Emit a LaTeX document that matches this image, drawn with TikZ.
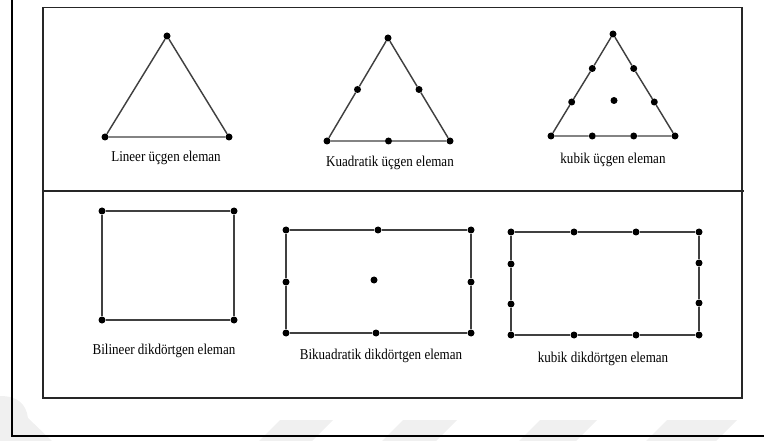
\documentclass[tikz,border=0pt]{standalone}
\usepackage{fontspec}
\setmainfont{Liberation Serif}
\begin{document}
\begin{tikzpicture}[x=1pt,y=-1pt,
  edge/.style={draw=black!75,line width=1.45pt},
  nd/.style={circle,fill=black,inner sep=0pt,minimum size=7pt},
  lbl/.style={font=\fontsize{15}{17}\selectfont,xscale=0.87,inner sep=0pt},
  frame/.style={draw=black!85,line width=1.4pt},
  shade/.style={fill=black!6,draw=none}]
\useasboundingbox (0,0) rectangle (764,441);
% faint background band shapes
\fill[shade] (0,396) .. controls (18,396) and (26,404) .. (28,418) -- (52,441) -- (0,441) -- cycle;
\fill[shade] (280,420) -- (333,420) -- (312,441) -- (259,441) -- cycle;
\fill[shade] (403,420) -- (457,420) -- (436,441) -- (382,441) -- cycle;
\fill[shade] (540,420) -- (597,420) -- (576,441) -- (519,441) -- cycle;
\fill[shade] (667,420) -- (737,420) -- (716,441) -- (646,441) -- cycle;
% outer frame
\draw[line width=2.6pt] (12,0) -- (12,436) -- (764,436);
% inner frame and divider
\draw[frame] (43,7.5) rectangle (742,398);
\draw[frame] (43,191) -- (744,191);

% linear triangle
\node[nd] (t1a) at (167,36) {};
\node[nd] (t1b) at (105,137) {};
\node[nd] (t1c) at (229,137) {};
\draw[edge] (t1a) -- (t1b) -- (t1c) -- (t1a);
\node[lbl] (l1) at (166,158) {Lineer üçgen eleman};

% quadratic triangle
\node[nd] (t2a) at (388,38) {};
\node[nd] (t2b) at (327,141) {};
\node[nd] (t2c) at (450,141) {};
\node[nd] (t2ab) at (357.5,89.5) {};
\node[nd] (t2ac) at (419,89.5) {};
\node[nd] (t2bc) at (388.5,141) {};
\draw[edge] (t2a) -- (t2ab) -- (t2b) -- (t2bc) -- (t2c) -- (t2ac) -- (t2a);
\node[lbl] (l2) at (390,163) {Kuadratik üçgen eleman};

% cubic triangle
\node[nd] (t3a) at (613,34) {};
\node[nd] (t3b) at (551,136) {};
\node[nd] (t3c) at (675,136) {};
\node[nd] (t3l1) at (592.3,68.5) {};
\node[nd] (t3l2) at (571.7,102) {};
\node[nd] (t3r1) at (633.7,68.5) {};
\node[nd] (t3r2) at (654.3,102) {};
\node[nd] (t3m1) at (592.3,136) {};
\node[nd] (t3m2) at (633.7,136) {};
\node[nd] (t3o) at (614,100.5) {};
\draw[edge] (t3a) -- (t3l1) -- (t3l2) -- (t3b) -- (t3m1) -- (t3m2) -- (t3c)
  -- (t3r2) -- (t3r1) -- (t3a);
\node[lbl] (l3) at (613,160) {kubik üçgen eleman};

% bilinear rectangle
\node[nd] (r1a) at (102,211) {};
\node[nd] (r1b) at (234,211) {};
\node[nd] (r1c) at (234,320) {};
\node[nd] (r1d) at (102,320) {};
\draw[edge] (r1a) -- (r1b) -- (r1c) -- (r1d) -- (r1a);
\node[lbl] (l4) at (164,351) {Bilineer dikdörtgen eleman};

% biquadratic rectangle
\node[nd] (r2a) at (286,230) {};
\node[nd] (r2ab) at (378,230) {};
\node[nd] (r2b) at (471,230) {};
\node[nd] (r2bc) at (471,282) {};
\node[nd] (r2c) at (471,333) {};
\node[nd] (r2cd) at (376,333) {};
\node[nd] (r2d) at (286,333) {};
\node[nd] (r2da) at (286,282) {};
\node[nd] (r2o) at (374,280) {};
\draw[edge] (r2a) -- (r2ab) -- (r2b) -- (r2bc) -- (r2c) -- (r2cd) -- (r2d)
  -- (r2da) -- (r2a);
\node[lbl] (l5) at (381,356) {Bikuadratik dikdörtgen eleman};

% cubic rectangle
\node[nd] (r3a) at (511,232) {};
\node[nd] (r3t1) at (574,232) {};
\node[nd] (r3t2) at (636,232) {};
\node[nd] (r3b) at (699,232) {};
\node[nd] (r3r1) at (699,263) {};
\node[nd] (r3r2) at (699,303) {};
\node[nd] (r3c) at (699,335) {};
\node[nd] (r3u2) at (636,335) {};
\node[nd] (r3u1) at (574,335) {};
\node[nd] (r3d) at (511,335) {};
\node[nd] (r3l2) at (511,304) {};
\node[nd] (r3l1) at (511,264) {};
\draw[edge] (r3a) -- (r3t1) -- (r3t2) -- (r3b) -- (r3r1) -- (r3r2) -- (r3c)
  -- (r3u2) -- (r3u1) -- (r3d) -- (r3l2) -- (r3l1) -- (r3a);
\node[lbl] (l6) at (603,359) {kubik dikdörtgen eleman};
\end{tikzpicture}
\end{document}
